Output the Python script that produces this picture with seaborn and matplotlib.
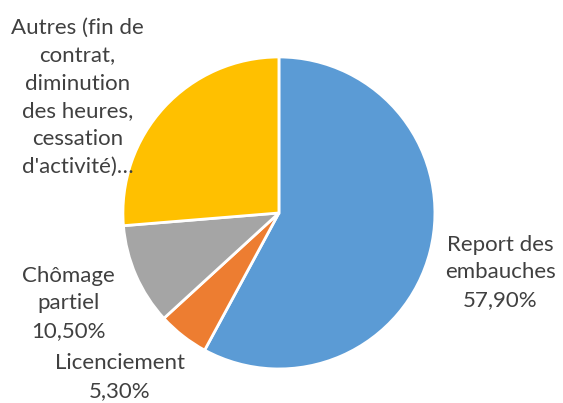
import matplotlib
matplotlib.use("Agg")
import matplotlib.pyplot as plt
import seaborn as sns

# data
labels = ["Report des\nembauches\n57,90%", "Licenciement\n5,30%",
          "Chômage\npartiel\n10,50%",
          "Autres (fin de\ncontrat,\ndiminution\ndes heures,\ncessation\nd'activité)…"]
shares = [57.9, 5.3, 10.5, 26.3]
colors = ["#5B9BD5", "#ED7D31", "#A5A5A5", "#FFC000"]
# label centres in pie units (radius = 1)
label_pos = [(1.42, -0.38), (-1.02, -1.05), (-1.35, -0.58), (-1.29, 0.74)]

sns.set_theme(style="white")
plt.rcParams["font.family"] = ["Lato", "DejaVu Sans"]

fig = plt.figure(figsize=(5.63, 4.03), dpi=100)
ax = fig.add_axes([0, 0, 1, 1])

wedges, _ = ax.pie(shares, colors=colors, startangle=90, counterclock=False,
                   wedgeprops=dict(edgecolor="white", linewidth=2))

for txt, (x, y) in zip(labels, label_pos):
    ax.text(x, y, txt, ha="center", va="center", fontsize=16,
            color="#404040", linespacing=1.48)

ax.set_xlim(-1.788, 1.821)
ax.set_ylim(-1.218, 1.365)
ax.set_aspect("equal")
ax.axis("off")

fig.savefig("out.png", dpi=100)
